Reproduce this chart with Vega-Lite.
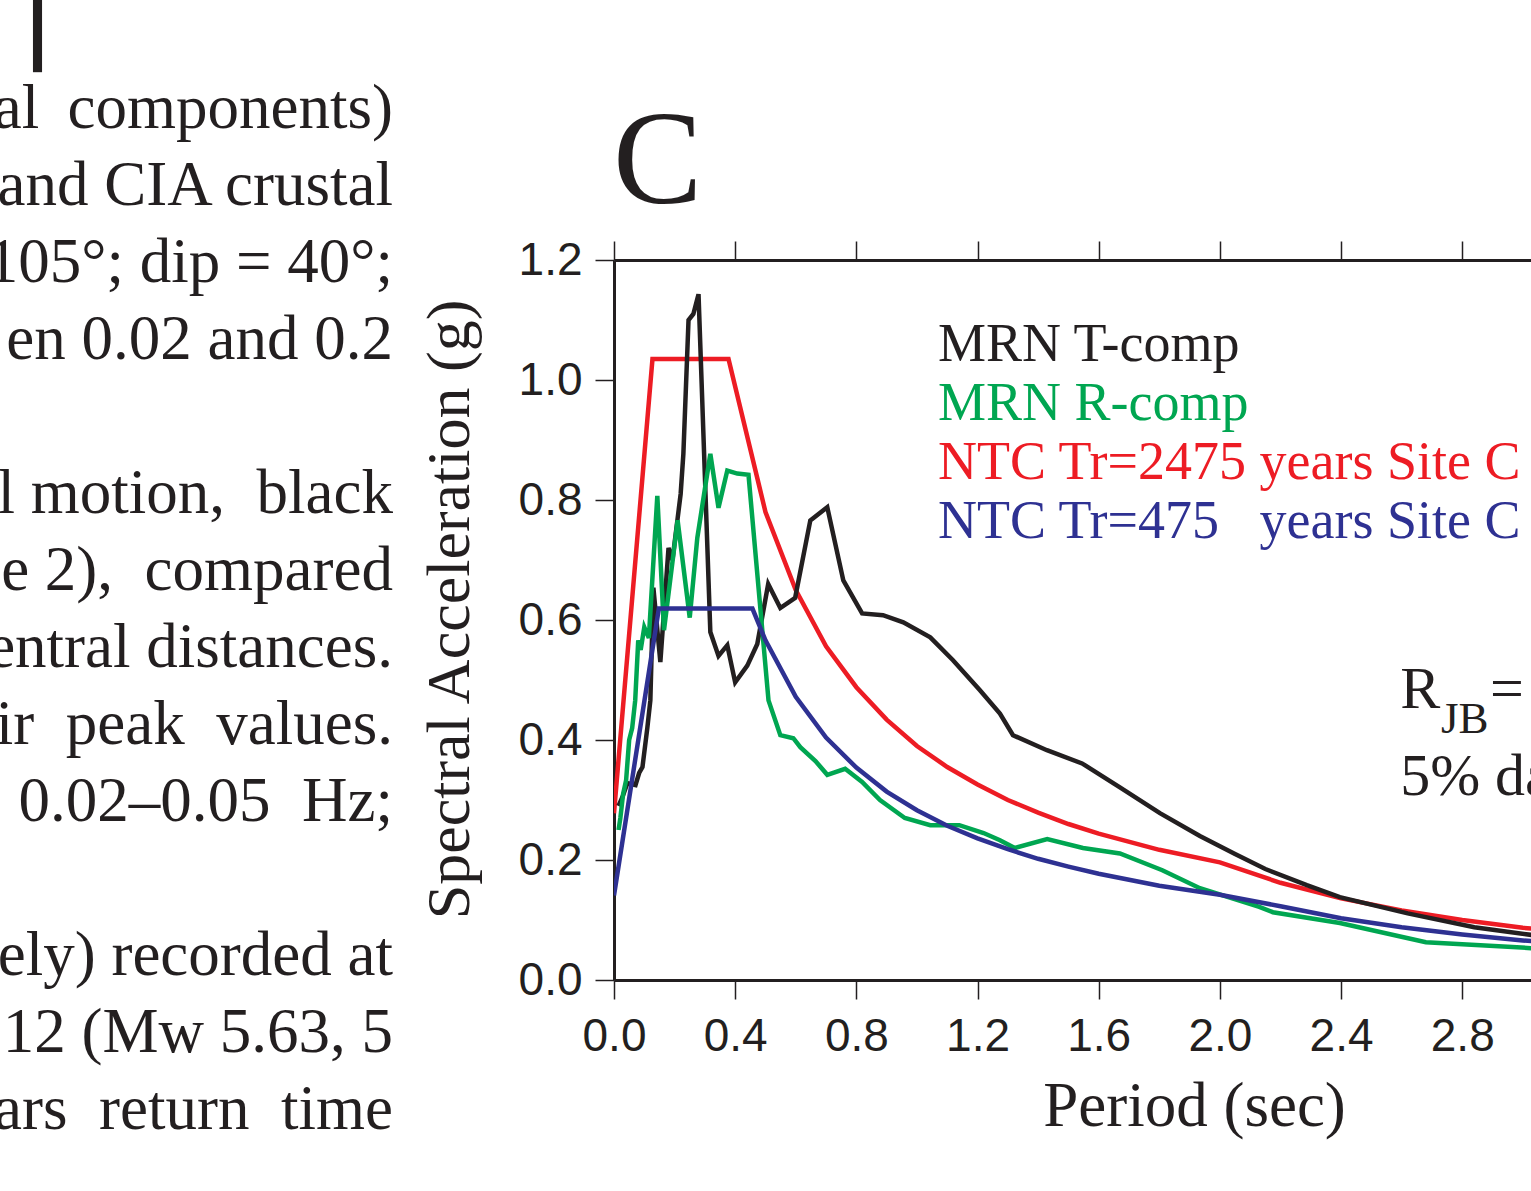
{
  "$schema": "https://vega.github.io/schema/vega-lite/v6.json",
  "width": 917,
  "height": 720,
  "autosize": {"type": "none"},
  "padding": {"left": 614, "top": 260, "right": 0, "bottom": 211},
  "background": "white",
  "config": {"view": {"stroke": null}, "font": "Liberation Serif"},
  "resolve": {"scale": {"y": "independent"}, "axis": {"x": "independent"}},
  "layer": [
    {
      "data": {"values": [
        {"series": "NTC Tr=2475 years Site C", "period": 0.0, "sa": 0.278},
        {"series": "NTC Tr=2475 years Site C", "period": 0.127, "sa": 1.035},
        {"series": "NTC Tr=2475 years Site C", "period": 0.378, "sa": 1.035},
        {"series": "NTC Tr=2475 years Site C", "period": 0.5, "sa": 0.78},
        {"series": "NTC Tr=2475 years Site C", "period": 0.6, "sa": 0.65},
        {"series": "NTC Tr=2475 years Site C", "period": 0.7, "sa": 0.556},
        {"series": "NTC Tr=2475 years Site C", "period": 0.8, "sa": 0.488},
        {"series": "NTC Tr=2475 years Site C", "period": 0.9, "sa": 0.434},
        {"series": "NTC Tr=2475 years Site C", "period": 1.0, "sa": 0.39},
        {"series": "NTC Tr=2475 years Site C", "period": 1.1, "sa": 0.355},
        {"series": "NTC Tr=2475 years Site C", "period": 1.2, "sa": 0.326},
        {"series": "NTC Tr=2475 years Site C", "period": 1.3, "sa": 0.3},
        {"series": "NTC Tr=2475 years Site C", "period": 1.4, "sa": 0.279},
        {"series": "NTC Tr=2475 years Site C", "period": 1.5, "sa": 0.26},
        {"series": "NTC Tr=2475 years Site C", "period": 1.6, "sa": 0.244},
        {"series": "NTC Tr=2475 years Site C", "period": 1.8, "sa": 0.217},
        {"series": "NTC Tr=2475 years Site C", "period": 2.0, "sa": 0.196},
        {"series": "NTC Tr=2475 years Site C", "period": 2.2, "sa": 0.162},
        {"series": "NTC Tr=2475 years Site C", "period": 2.4, "sa": 0.136},
        {"series": "NTC Tr=2475 years Site C", "period": 2.6, "sa": 0.116},
        {"series": "NTC Tr=2475 years Site C", "period": 2.8, "sa": 0.1},
        {"series": "NTC Tr=2475 years Site C", "period": 3.0, "sa": 0.087},
        {"series": "NTC Tr=2475 years Site C", "period": 3.1, "sa": 0.083},

        {"series": "MRN T-comp", "period": 0.015, "sa": 0.29},
        {"series": "MRN T-comp", "period": 0.028, "sa": 0.305},
        {"series": "MRN T-comp", "period": 0.044, "sa": 0.328},
        {"series": "MRN T-comp", "period": 0.071, "sa": 0.325},
        {"series": "MRN T-comp", "period": 0.083, "sa": 0.345},
        {"series": "MRN T-comp", "period": 0.094, "sa": 0.355},
        {"series": "MRN T-comp", "period": 0.11, "sa": 0.42},
        {"series": "MRN T-comp", "period": 0.12, "sa": 0.466},
        {"series": "MRN T-comp", "period": 0.13, "sa": 0.654},
        {"series": "MRN T-comp", "period": 0.153, "sa": 0.53},
        {"series": "MRN T-comp", "period": 0.18, "sa": 0.72},
        {"series": "MRN T-comp", "period": 0.193, "sa": 0.7},
        {"series": "MRN T-comp", "period": 0.22, "sa": 0.81},
        {"series": "MRN T-comp", "period": 0.229, "sa": 0.877},
        {"series": "MRN T-comp", "period": 0.246, "sa": 1.1},
        {"series": "MRN T-comp", "period": 0.262, "sa": 1.11},
        {"series": "MRN T-comp", "period": 0.279, "sa": 1.143},
        {"series": "MRN T-comp", "period": 0.318, "sa": 0.58},
        {"series": "MRN T-comp", "period": 0.345, "sa": 0.54},
        {"series": "MRN T-comp", "period": 0.374, "sa": 0.558},
        {"series": "MRN T-comp", "period": 0.4, "sa": 0.496},
        {"series": "MRN T-comp", "period": 0.44, "sa": 0.524},
        {"series": "MRN T-comp", "period": 0.473, "sa": 0.56},
        {"series": "MRN T-comp", "period": 0.509, "sa": 0.66},
        {"series": "MRN T-comp", "period": 0.549, "sa": 0.62},
        {"series": "MRN T-comp", "period": 0.598, "sa": 0.637},
        {"series": "MRN T-comp", "period": 0.648, "sa": 0.766},
        {"series": "MRN T-comp", "period": 0.704, "sa": 0.788},
        {"series": "MRN T-comp", "period": 0.757, "sa": 0.666},
        {"series": "MRN T-comp", "period": 0.819, "sa": 0.611},
        {"series": "MRN T-comp", "period": 0.888, "sa": 0.608},
        {"series": "MRN T-comp", "period": 0.955, "sa": 0.596},
        {"series": "MRN T-comp", "period": 1.044, "sa": 0.571},
        {"series": "MRN T-comp", "period": 1.119, "sa": 0.533},
        {"series": "MRN T-comp", "period": 1.208, "sa": 0.483},
        {"series": "MRN T-comp", "period": 1.274, "sa": 0.444},
        {"series": "MRN T-comp", "period": 1.317, "sa": 0.408},
        {"series": "MRN T-comp", "period": 1.429, "sa": 0.383},
        {"series": "MRN T-comp", "period": 1.545, "sa": 0.361},
        {"series": "MRN T-comp", "period": 1.67, "sa": 0.321},
        {"series": "MRN T-comp", "period": 1.802, "sa": 0.278},
        {"series": "MRN T-comp", "period": 1.934, "sa": 0.24},
        {"series": "MRN T-comp", "period": 2.05, "sa": 0.21},
        {"series": "MRN T-comp", "period": 2.15, "sa": 0.185},
        {"series": "MRN T-comp", "period": 2.287, "sa": 0.158},
        {"series": "MRN T-comp", "period": 2.396, "sa": 0.138},
        {"series": "MRN T-comp", "period": 2.62, "sa": 0.111},
        {"series": "MRN T-comp", "period": 2.84, "sa": 0.088},
        {"series": "MRN T-comp", "period": 3.03, "sa": 0.075},

        {"series": "MRN R-comp", "period": 0.015, "sa": 0.25},
        {"series": "MRN R-comp", "period": 0.021, "sa": 0.27},
        {"series": "MRN R-comp", "period": 0.03, "sa": 0.31},
        {"series": "MRN R-comp", "period": 0.04, "sa": 0.333},
        {"series": "MRN R-comp", "period": 0.05, "sa": 0.4},
        {"series": "MRN R-comp", "period": 0.06, "sa": 0.42},
        {"series": "MRN R-comp", "period": 0.07, "sa": 0.466},
        {"series": "MRN R-comp", "period": 0.08, "sa": 0.566},
        {"series": "MRN R-comp", "period": 0.088, "sa": 0.55},
        {"series": "MRN R-comp", "period": 0.1, "sa": 0.588},
        {"series": "MRN R-comp", "period": 0.115, "sa": 0.57},
        {"series": "MRN R-comp", "period": 0.143, "sa": 0.807},
        {"series": "MRN R-comp", "period": 0.165, "sa": 0.583},
        {"series": "MRN R-comp", "period": 0.21, "sa": 0.766},
        {"series": "MRN R-comp", "period": 0.25, "sa": 0.604},
        {"series": "MRN R-comp", "period": 0.275, "sa": 0.737},
        {"series": "MRN R-comp", "period": 0.318, "sa": 0.877},
        {"series": "MRN R-comp", "period": 0.345, "sa": 0.787},
        {"series": "MRN R-comp", "period": 0.374, "sa": 0.849},
        {"series": "MRN R-comp", "period": 0.407, "sa": 0.844},
        {"series": "MRN R-comp", "period": 0.444, "sa": 0.842},
        {"series": "MRN R-comp", "period": 0.51, "sa": 0.466},
        {"series": "MRN R-comp", "period": 0.549, "sa": 0.408},
        {"series": "MRN R-comp", "period": 0.592, "sa": 0.403},
        {"series": "MRN R-comp", "period": 0.615, "sa": 0.388},
        {"series": "MRN R-comp", "period": 0.665, "sa": 0.365},
        {"series": "MRN R-comp", "period": 0.704, "sa": 0.342},
        {"series": "MRN R-comp", "period": 0.763, "sa": 0.352},
        {"series": "MRN R-comp", "period": 0.819, "sa": 0.33},
        {"series": "MRN R-comp", "period": 0.878, "sa": 0.3},
        {"series": "MRN R-comp", "period": 0.96, "sa": 0.27},
        {"series": "MRN R-comp", "period": 1.044, "sa": 0.258},
        {"series": "MRN R-comp", "period": 1.14, "sa": 0.258},
        {"series": "MRN R-comp", "period": 1.22, "sa": 0.245},
        {"series": "MRN R-comp", "period": 1.274, "sa": 0.233},
        {"series": "MRN R-comp", "period": 1.323, "sa": 0.22},
        {"series": "MRN R-comp", "period": 1.43, "sa": 0.235},
        {"series": "MRN R-comp", "period": 1.548, "sa": 0.22},
        {"series": "MRN R-comp", "period": 1.67, "sa": 0.211},
        {"series": "MRN R-comp", "period": 1.81, "sa": 0.183},
        {"series": "MRN R-comp", "period": 1.934, "sa": 0.153},
        {"series": "MRN R-comp", "period": 2.13, "sa": 0.122},
        {"series": "MRN R-comp", "period": 2.175, "sa": 0.113},
        {"series": "MRN R-comp", "period": 2.396, "sa": 0.095},
        {"series": "MRN R-comp", "period": 2.68, "sa": 0.063},
        {"series": "MRN R-comp", "period": 3.03, "sa": 0.053},

        {"series": "NTC Tr=475\u00a0\u00a0\u00a0years Site C", "period": 0.0, "sa": 0.141},
        {"series": "NTC Tr=475\u00a0\u00a0\u00a0years Site C", "period": 0.148, "sa": 0.619},
        {"series": "NTC Tr=475\u00a0\u00a0\u00a0years Site C", "period": 0.457, "sa": 0.619},
        {"series": "NTC Tr=475\u00a0\u00a0\u00a0years Site C", "period": 0.5, "sa": 0.566},
        {"series": "NTC Tr=475\u00a0\u00a0\u00a0years Site C", "period": 0.6, "sa": 0.472},
        {"series": "NTC Tr=475\u00a0\u00a0\u00a0years Site C", "period": 0.7, "sa": 0.404},
        {"series": "NTC Tr=475\u00a0\u00a0\u00a0years Site C", "period": 0.8, "sa": 0.354},
        {"series": "NTC Tr=475\u00a0\u00a0\u00a0years Site C", "period": 0.9, "sa": 0.314},
        {"series": "NTC Tr=475\u00a0\u00a0\u00a0years Site C", "period": 1.0, "sa": 0.283},
        {"series": "NTC Tr=475\u00a0\u00a0\u00a0years Site C", "period": 1.1, "sa": 0.257},
        {"series": "NTC Tr=475\u00a0\u00a0\u00a0years Site C", "period": 1.2, "sa": 0.236},
        {"series": "NTC Tr=475\u00a0\u00a0\u00a0years Site C", "period": 1.3, "sa": 0.218},
        {"series": "NTC Tr=475\u00a0\u00a0\u00a0years Site C", "period": 1.4, "sa": 0.202},
        {"series": "NTC Tr=475\u00a0\u00a0\u00a0years Site C", "period": 1.5, "sa": 0.189},
        {"series": "NTC Tr=475\u00a0\u00a0\u00a0years Site C", "period": 1.6, "sa": 0.177},
        {"series": "NTC Tr=475\u00a0\u00a0\u00a0years Site C", "period": 1.8, "sa": 0.157},
        {"series": "NTC Tr=475\u00a0\u00a0\u00a0years Site C", "period": 2.0, "sa": 0.142},
        {"series": "NTC Tr=475\u00a0\u00a0\u00a0years Site C", "period": 2.2, "sa": 0.123},
        {"series": "NTC Tr=475\u00a0\u00a0\u00a0years Site C", "period": 2.4, "sa": 0.103},
        {"series": "NTC Tr=475\u00a0\u00a0\u00a0years Site C", "period": 2.6, "sa": 0.088},
        {"series": "NTC Tr=475\u00a0\u00a0\u00a0years Site C", "period": 2.8, "sa": 0.076},
        {"series": "NTC Tr=475\u00a0\u00a0\u00a0years Site C", "period": 3.0, "sa": 0.066},
        {"series": "NTC Tr=475\u00a0\u00a0\u00a0years Site C", "period": 3.1, "sa": 0.062}
      ]},
      "mark": {"type": "line", "strokeWidth": 4.5, "clip": true, "strokeJoin": "miter"},
      "encoding": {
        "x": {"field": "period", "type": "quantitative", "scale": {"domain": [0, 3.027], "nice": false},
          "axis": {"orient": "bottom", "values": [0, 0.4, 0.8, 1.2, 1.6, 2.0, 2.4, 2.8], "format": ".1f", "grid": false,
            "domainColor": "#231f20", "domainWidth": 3, "tickColor": "#231f20", "tickWidth": 1.5, "tickSize": 19,
            "labelFont": "Liberation Sans", "labelFontSize": 46, "labelColor": "#231f20", "labelPadding": 15, "labelFlush": false, "labelOverlap": false,
            "title": "Period (sec)", "titleFont": "Liberation Serif", "titleFontSize": 63, "titleFontWeight": "normal", "titleColor": "#231f20",
            "titleX": 580, "titleY": 145, "titleBaseline": "alphabetic", "titleAlign": "center"}},
        "y": {"field": "sa", "type": "quantitative", "scale": {"domain": [0, 1.2], "nice": false},
          "axis": {"orient": "left", "values": [0, 0.2, 0.4, 0.6, 0.8, 1.0, 1.2], "format": ".1f", "grid": false,
            "domainColor": "#231f20", "domainWidth": 3, "tickColor": "#231f20", "tickWidth": 1.5, "tickSize": 19,
            "labelFont": "Liberation Sans", "labelFontSize": 46, "labelColor": "#231f20", "labelPadding": 13, "labelFlush": false, "labelOverlap": false,
            "title": "Spectral Acceleration (g)", "titleFont": "Liberation Serif", "titleFontSize": 62, "titleFontWeight": "normal", "titleColor": "#231f20",
            "titleX": -146, "titleY": 349, "titleBaseline": "alphabetic", "titleAlign": "center", "titleAngle": -90}},
        "color": {"field": "series", "type": "nominal",
          "scale": {"domain": ["MRN T-comp", "MRN R-comp", "NTC Tr=2475 years Site C", "NTC Tr=475\u00a0\u00a0\u00a0years Site C"], "range": ["#231f20", "#00a651", "#ed1c24", "#2e3192"]},
          "legend": {"orient": "none", "legendX": 270, "legendY": 58, "title": null, "padding": 0,
            "labelFont": "Liberation Serif", "labelFontSize": 54, "labelLimit": 1000, "labelOffset": 0,
            "symbolSize": 0, "symbolOpacity": 0, "symbolStrokeWidth": 0, "rowPadding": 5,
            "encode": {"labels": {"update": {"fill": {"scale": "color", "field": "value"}}}}}}
      }
    },
    {
      "data": {"values": [{"period": 0}]},
      "mark": {"type": "point", "opacity": 0},
      "encoding": {
        "x": {"field": "period", "type": "quantitative", "scale": {"domain": [0, 3.027], "nice": false},
          "axis": {"orient": "top", "values": [0, 0.4, 0.8, 1.2, 1.6, 2.0, 2.4, 2.8], "labels": false, "grid": false, "title": null,
            "domainColor": "#231f20", "domainWidth": 3, "tickColor": "#231f20", "tickWidth": 1.5, "tickSize": 19}}
      }
    },
    {
      "data": {"values": [{}]},
      "mark": {"type": "rect", "color": "#231f20", "clip": false},
      "encoding": {
        "x": {"datum": -1.918, "type": "quantitative", "scale": {"domain": [0, 3.027], "nice": false}, "axis": null},
        "x2": {"datum": -1.888},
        "y": {"datum": 1.64, "type": "quantitative", "scale": {"domain": [0, 1.2], "nice": false}, "axis": null},
        "y2": {"datum": 1.513}
      }
    },
    {
      "data": {"values": [{}]},
      "mark": {"type": "text", "text": "C", "font": "Liberation Serif", "fontSize": 134, "align": "left", "baseline": "alphabetic", "color": "#231f20", "clip": false},
      "encoding": {
        "x": {"datum": -0.003, "type": "quantitative", "scale": {"domain": [0, 3.027], "nice": false}, "axis": null},
        "y": {"datum": 1.295, "type": "quantitative", "scale": {"domain": [0, 1.2], "nice": false}, "axis": null}
      }
    },
    {
      "data": {"values": [{}]},
      "mark": {"type": "text", "text": "R", "font": "Liberation Serif", "fontSize": 60, "align": "left", "baseline": "alphabetic", "color": "#231f20", "clip": false},
      "encoding": {
        "x": {"datum": 2.595, "type": "quantitative", "scale": {"domain": [0, 3.027], "nice": false}, "axis": null},
        "y": {"datum": 0.4533, "type": "quantitative", "scale": {"domain": [0, 1.2], "nice": false}, "axis": null}
      }
    },
    {
      "data": {"values": [{}]},
      "mark": {"type": "text", "text": "JB", "font": "Liberation Serif", "fontSize": 45, "align": "left", "baseline": "alphabetic", "color": "#231f20", "clip": false},
      "encoding": {
        "x": {"datum": 2.73, "type": "quantitative", "scale": {"domain": [0, 3.027], "nice": false}, "axis": null},
        "y": {"datum": 0.4117, "type": "quantitative", "scale": {"domain": [0, 1.2], "nice": false}, "axis": null}
      }
    },
    {
      "data": {"values": [{}]},
      "mark": {"type": "text", "text": "=", "font": "Liberation Serif", "fontSize": 60, "align": "left", "baseline": "alphabetic", "color": "#231f20", "clip": false},
      "encoding": {
        "x": {"datum": 2.892, "type": "quantitative", "scale": {"domain": [0, 3.027], "nice": false}, "axis": null},
        "y": {"datum": 0.4533, "type": "quantitative", "scale": {"domain": [0, 1.2], "nice": false}, "axis": null}
      }
    },
    {
      "data": {"values": [{}]},
      "mark": {"type": "text", "text": "5% damping", "font": "Liberation Serif", "fontSize": 60, "align": "left", "baseline": "alphabetic", "color": "#231f20", "clip": false},
      "encoding": {
        "x": {"datum": 2.595, "type": "quantitative", "scale": {"domain": [0, 3.027], "nice": false}, "axis": null},
        "y": {"datum": 0.3083, "type": "quantitative", "scale": {"domain": [0, 1.2], "nice": false}, "axis": null}
      }
    },
    {
      "data": {"values": [
        {"line": 1, "text": "al\u00a0\u2009components)"},
        {"line": 2, "text": "and CIA crustal"},
        {"line": 3, "text": "105°; dip = 40°;"},
        {"line": 4, "text": "en 0.02 and 0.2"},
        {"line": 6, "text": "l\u00a0motion,\u00a0\u00a0black"},
        {"line": 7, "text": "e 2),\u00a0\u00a0compared"},
        {"line": 8, "text": "entral distances."},
        {"line": 9, "text": "ir\u00a0\u00a0peak\u00a0\u00a0values."},
        {"line": 10, "text": "0.02–0.05\u00a0\u00a0Hz;"},
        {"line": 12, "text": "ely) recorded at"},
        {"line": 13, "text": "12 (Mw 5.63, 5"},
        {"line": 14, "text": "ars\u00a0\u00a0return\u00a0\u00a0time"}
      ]},
      "mark": {"type": "text", "font": "Liberation Serif", "fontSize": 63, "align": "right", "baseline": "alphabetic", "color": "#231f20", "clip": false},
      "encoding": {
        "x": {"datum": -0.7296, "type": "quantitative", "scale": {"domain": [0, 3.027], "nice": false}, "axis": null},
        "y": {"field": "line", "type": "quantitative", "scale": {"domain": [12.065, 2.714], "nice": false, "zero": false}, "axis": null},
        "text": {"field": "text"}
      }
    }
  ]
}
